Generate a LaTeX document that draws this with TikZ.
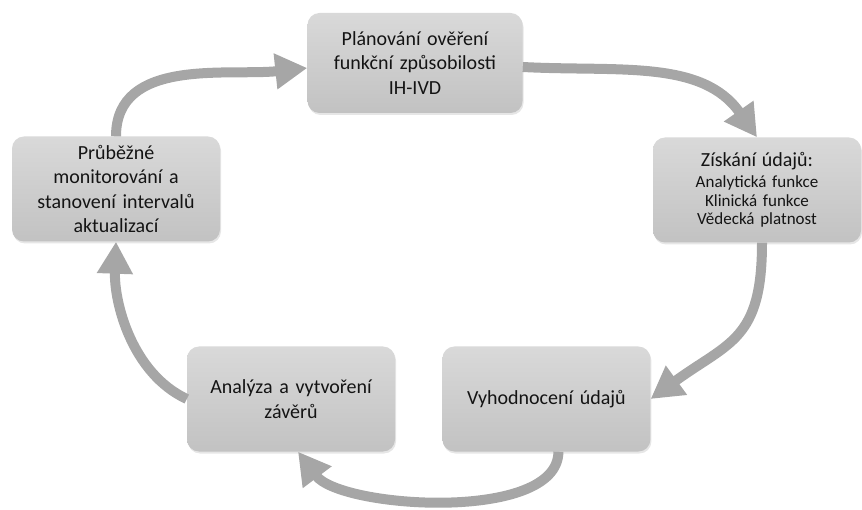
\documentclass[tikz,border=0pt]{standalone}
\usepackage{fontspec}
\setmainfont{Carlito}
\usetikzlibrary{positioning,arrows.meta,shadows}
\definecolor{boxtop}{HTML}{D9D9D9}
\definecolor{boxbot}{HTML}{C2C2C2}
\definecolor{flowgray}{HTML}{A6A6A6}
\definecolor{textgray}{HTML}{141414}

\begin{document}
\begin{tikzpicture}[x=1pt,y=1pt,
    box/.style={rounded corners=12pt,top color=boxtop,bottom color=boxbot,minimum width=208pt,minimum height=105pt,text width=195pt,align=center,text=textgray,font=\fontsize{20}{24.5}\selectfont,drop shadow={opacity=0.2,shadow xshift=1pt,shadow yshift=-2pt}},
    flow/.style={line width=10pt,draw=flowgray,-{Triangle[width=34pt,length=32pt]}}]
    \useasboundingbox (0,0) rectangle (862,509);
    \node [box,minimum width=215pt,minimum height=100pt] (PL) at (415,446) {Plánování ověření\\funkční způsobilosti\\IH-IVD} ;
    \node [box,font=\fontsize{17}{18.5}\selectfont] (ZU) at (757,319) {{\fontsize{20}{24}\selectfont Získání údajů:}\\[3pt]Analytická funkce\\Klinická funkce\\Vědecká platnost} ;
    \node [box] (AZ) at (291,110) {Analýza a vytvoření\\závěrů} ;
    \node [box,right=47pt of AZ] (VU) {Vyhodnocení údajů} ;
    \node [box] (PM) at (116,320) {Průběžné\\monitorování a\\stanovení intervalů\\aktualizací} ;

    \draw [flow] ([yshift=-4pt]PL.east) to[out=-3,in=125] (ZU.north);
    \draw [flow] ([xshift=5pt]ZU.south) to[out=-90,in=36,looseness=1.3] (VU.east);
    \draw [flow] ([xshift=12pt]VU.south) to[out=-90,in=-53,looseness=0.7] ([xshift=7pt]AZ.south);
    \draw [flow] (AZ.west) to[out=155,in=-92,looseness=0.9] (PM.south);
    \draw [flow] (PM.north) to[out=90,in=186] ([yshift=-5pt]PL.west);
\end{tikzpicture}
\end{document}
